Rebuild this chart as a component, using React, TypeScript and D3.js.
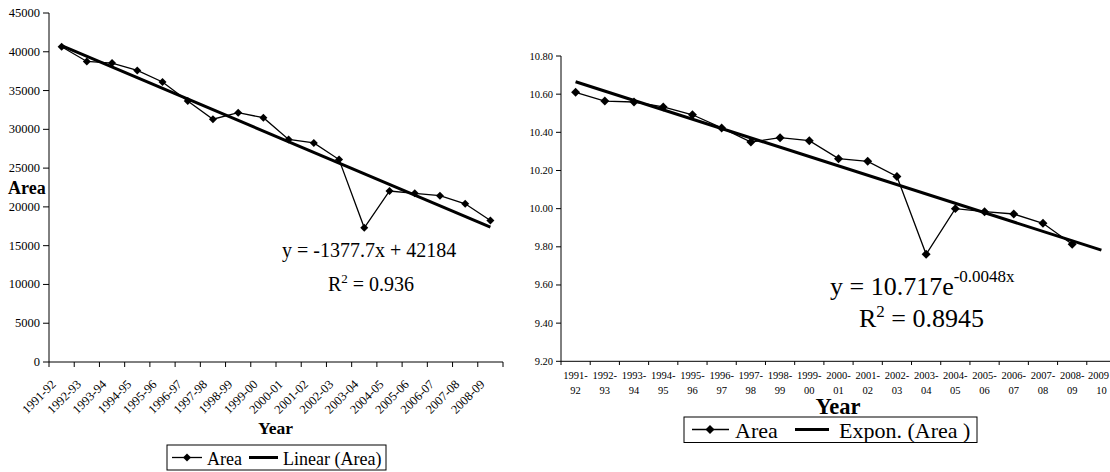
import * as d3 from "d3";

const years = [
  "1991-92", "1992-93", "1993-94", "1994-95", "1995-96", "1996-97",
  "1997-98", "1998-99", "1999-00", "2000-01", "2001-02", "2002-03",
  "2003-04", "2004-05", "2005-06", "2006-07", "2007-08", "2008-09",
];
const yearsExp = [...years, "2009-10"];

// area values (left chart)
const area = [
  40650, 38750, 38550, 37600, 36100, 33650, 31300, 32150, 31500,
  28700, 28250, 26100, 17300, 22050, 21750, 21450, 20400, 18250,
];
// log of area (right chart)
const logArea = [
  10.61, 10.564, 10.559, 10.533, 10.492, 10.423, 10.349, 10.372, 10.356,
  10.262, 10.248, 10.169, 9.761, 10.0, 9.984, 9.972, 9.923, 9.813,
];

// trend line ends (x index 1 -> last)
const linearTrend = [40806, 17385];
const exponTrend = [10.665, 9.783];

const areaTicks = [0, 5000, 10000, 15000, 20000, 25000, 30000, 35000, 40000, 45000];
const logTicks = [9.2, 9.4, 9.6, 9.8, 10.0, 10.2, 10.4, 10.6, 10.8];

const serif = "Liberation Serif";

function diamond(cx: number, cy: number, s = 32) {
  return (
    <path
      d={d3.symbol().type(d3.symbolSquare).size(s)()!}
      transform={`translate(${cx},${cy}) rotate(45)`}
      fill="#000"
    />
  );
}

function LeftChart() {
  const x = d3.scaleBand<string>().domain(years).range([49, 503]).padding(0);
  const y = d3.scaleLinear().domain([0, 45000]).range([362, 13]);
  const cx = (d: string) => x(d)! + x.bandwidth() / 2;
  const line = d3
    .line<number>()
    .x((_, i) => cx(years[i]))
    .y((v) => y(v));
  const bounds = d3.range(years.length + 1).map((i) => 49 + i * x.bandwidth());
  return (
    <g fill="#000">
      <line x1={49} x2={49} y1={13} y2={362} stroke="#000" />
      <line x1={49} x2={503} y1={362} y2={362} stroke="#000" />
      {areaTicks.map((t) => (
        <g key={t}>
          <line x1={43} x2={49} y1={y(t)} y2={y(t)} stroke="#000" />
          <text x={40} y={y(t) + 4} textAnchor="end" fontSize={12.5}>
            {t}
          </text>
        </g>
      ))}
      {bounds.map((b, i) => (
        <line key={i} x1={b} x2={b} y1={362} y2={367} stroke="#000" />
      ))}
      {years.map((d) => (
        <text
          key={d}
          transform={`translate(${cx(d) - 5},${385}) rotate(-45)`}
          textAnchor="end"
          fontSize={12.5}
        >
          {d}
        </text>
      ))}
      <path d={line(area)!} fill="none" stroke="#000" strokeWidth={1.3} />
      {area.map((v, i) => (
        <g key={i}>{diamond(cx(years[i]), y(v))}</g>
      ))}
      <line
        x1={cx(years[0])}
        x2={cx(years[years.length - 1])}
        y1={y(linearTrend[0])}
        y2={y(linearTrend[1])}
        stroke="#000"
        strokeWidth={3}
      />
      <text x={8} y={194} fontSize={18} fontWeight="bold">
        Area
      </text>
      <text x={275.5} y={434} fontSize={17.5} fontWeight="bold" textAnchor="middle">
        Year
      </text>
      <text x={282} y={257} fontSize={20}>
        y = -1377.7x + 42184
      </text>
      <text x={328} y={291} fontSize={20}>
        R<tspan dy={-8} fontSize={13}>2</tspan>
        <tspan dy={8}> = 0.936</tspan>
      </text>
      <rect x={167} y={445} width={219} height={25} fill="#fff" stroke="#000" />
      <line x1={172} x2={202} y1={457.5} y2={457.5} stroke="#000" strokeWidth={1.3} />
      {diamond(187, 457.5)}
      <text x={207} y={465} fontSize={18}>
        Area
      </text>
      <line x1={249} x2={278} y1={457.5} y2={457.5} stroke="#000" strokeWidth={3} />
      <text x={283} y={465} fontSize={18}>
        Linear (Area)
      </text>
    </g>
  );
}

function RightChart() {
  const x = d3.scaleBand<string>().domain(yearsExp).range([561, 1116]).padding(0);
  const y = d3.scaleLinear().domain([9.2, 10.8]).range([361.3, 56]);
  const cx = (d: string) => x(d)! + x.bandwidth() / 2;
  const line = d3
    .line<number>()
    .x((_, i) => cx(yearsExp[i]))
    .y((v) => y(v));
  const bounds = d3.range(yearsExp.length + 1).map((i) => 561 + i * x.bandwidth());
  return (
    <g fill="#000">
      <line x1={561} x2={561} y1={56} y2={361.3} stroke="#000" />
      <line x1={561} x2={1116} y1={361.3} y2={361.3} stroke="#000" />
      {logTicks.map((t) => (
        <g key={t}>
          <line x1={556} x2={561} y1={y(t)} y2={y(t)} stroke="#000" />
          <text x={553} y={y(t) + 3.5} textAnchor="end" fontSize={10.5}>
            {d3.format(".2f")(t)}
          </text>
        </g>
      ))}
      {bounds.map((b, i) => (
        <line key={i} x1={b} x2={b} y1={361.3} y2={365} stroke="#000" />
      ))}
      {yearsExp.map((d, i) => {
        const [a, b] = d.split("-");
        const last = i === yearsExp.length - 1;
        return (
          <g key={d}>
            <text
              x={last ? 1109 : cx(d)}
              y={379}
              textAnchor={last ? "end" : "middle"}
              fontSize={10.5}
            >
              {last ? a : a + "-"}
            </text>
            <text x={cx(d)} y={393.5} textAnchor="middle" fontSize={10.5}>
              {b}
            </text>
          </g>
        );
      })}
      <path d={line(logArea)!} fill="none" stroke="#000" strokeWidth={1.3} />
      {logArea.map((v, i) => (
        <g key={i}>{diamond(cx(yearsExp[i]), y(v), 40)}</g>
      ))}
      <line
        x1={cx(yearsExp[0])}
        x2={cx(yearsExp[yearsExp.length - 1])}
        y1={y(exponTrend[0])}
        y2={y(exponTrend[1])}
        stroke="#000"
        strokeWidth={3}
      />
      <text x={838} y={414} fontSize={22.5} fontWeight="bold" textAnchor="middle">
        Year
      </text>
      <text x={830} y={295} fontSize={26}>
        y = 10.717e<tspan dy={-13} fontSize={17}>-0.0048x</tspan>
      </text>
      <text x={859} y={327} fontSize={26}>
        R<tspan dy={-10} fontSize={17}>2</tspan>
        <tspan dy={10}> = 0.8945</tspan>
      </text>
      <rect x={684} y={417} width={293} height={25.5} fill="#fff" stroke="#000" />
      <line x1={692} x2={729} y1={429.5} y2={429.5} stroke="#000" strokeWidth={1.3} />
      {diamond(710, 429.5, 40)}
      <text x={735} y={437.5} fontSize={22}>
        Area
      </text>
      <line x1={795} x2={829} y1={429.5} y2={429.5} stroke="#000" strokeWidth={3} />
      <text x={839} y={437.5} fontSize={22}>
        Expon. (Area )
      </text>
    </g>
  );
}

export default function App() {
  return (
    <svg
      width={1110}
      height={472}
      style={{
        position: "absolute",
        left: 0,
        top: 0,
        background: "#fff",
        fontFamily: serif,
      }}
    >
      <LeftChart />
      <RightChart />
    </svg>
  );
}
